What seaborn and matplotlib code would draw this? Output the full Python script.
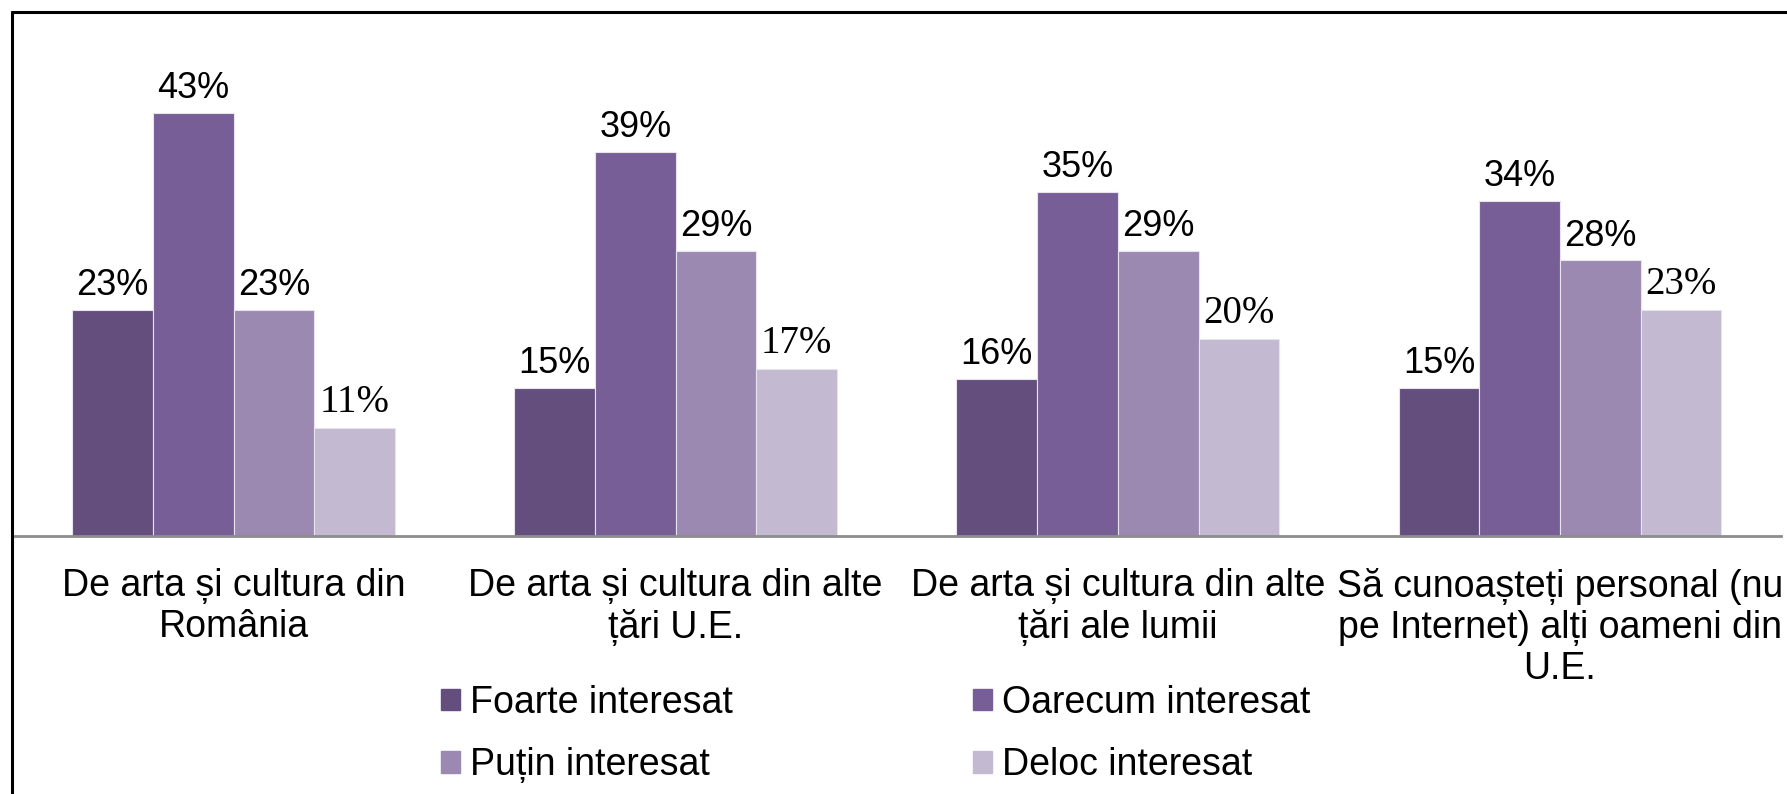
import matplotlib
matplotlib.use("Agg")
import matplotlib.pyplot as plt
from matplotlib.lines import Line2D
import seaborn as sns
import pandas as pd

# date grafic
categorii = [
    "De arta și cultura din\nRomânia",
    "De arta și cultura din alte\nțări U.E.",
    "De arta și cultura din alte\nțări ale lumii",
    "Să cunoașteți personal (nu\npe Internet) alți oameni din\nU.E.",
]
serii = ["Foarte interesat", "Oarecum interesat", "Puțin interesat", "Deloc interesat"]
foarte = [23, 15, 16, 15]
oarecum = [43, 39, 35, 34]
putin = [23, 29, 29, 28]
deloc = [11, 17, 20, 23]
culori = ["#634E7E", "#775E96", "#9B89B2", "#C3B9D0"]

valori = [foarte, oarecum, putin, deloc]
rows = []
for s, vals in zip(serii, valori):
    for c, v in zip(categorii, vals):
        rows.append({"categorie": c, "serie": s, "valoare": v})
df = pd.DataFrame(rows)

sns.set_style("white")
plt.rcParams["font.family"] = ["Liberation Sans", "DejaVu Sans"]
plt.rcParams["text.color"] = "black"
plt.rcParams["xtick.labelcolor"] = "black"

W, H = 1787, 794
fig = plt.figure(figsize=(W / 100, H / 100), dpi=100)
ax = fig.add_axes([12.5 / W, (H - 536) / H, (1781 - 12.5) / W, (536 - 44) / H])

sns.barplot(data=df, x="categorie", y="valoare", hue="serie", order=categorii,
            hue_order=serii, palette=culori, width=0.73, gap=0, saturation=1,
            edgecolor="#E8E4EE", linewidth=0.8, ax=ax, legend=False)

ax.set_ylim(0, 50)
ax.set_xlim(-0.5, 3.5)
ax.set_xlabel("")
ax.set_ylabel("")
ax.set_yticks([])
for side in ["top", "right", "left"]:
    ax.spines[side].set_visible(False)
ax.spines["bottom"].set_color("#8C8C8C")
ax.spines["bottom"].set_linewidth(2)

ax.set_xticks(range(len(categorii)))
ax.set_xticklabels(categorii, fontsize=27, linespacing=1.18)
ax.tick_params(axis="x", which="major", length=0, pad=23)
ax.set_xticks([0.5, 1.5, 2.5, 3.5], minor=True)
ax.tick_params(axis="x", which="minor", length=10, width=2, color="#8C8C8C")

# etichete
for i, cont in enumerate(ax.containers):
    if i == 3:
        ax.bar_label(cont, labels=[f"{v}%" for v in valori[i]], padding=5,
                     fontsize=28, family=["Liberation Serif"])
    else:
        ax.bar_label(cont, labels=[f"{v}%" for v in valori[i]], padding=5,
                     fontsize=26, family=["Liberation Sans"])

# legenda, ordine pe randuri
ordine = [0, 2, 1, 3]
handles = [plt.Rectangle((0, 0), 1, 1, color=culori[k]) for k in ordine]
fig.legend(handles, [serii[k] for k in ordine], ncol=2, loc="center left",
           bbox_to_anchor=(441 / W, (H - 734) / H), frameon=False,
           fontsize=27, handlelength=0.51, handleheight=0.5,
           handletextpad=0.27, columnspacing=6.4, labelspacing=0.71,
           borderpad=0, borderaxespad=0)

# chenar
fig.add_artist(Line2D([11.5 / W, 11.5 / W], [0, (H - 11.5) / H], color="black", lw=2.2,
                      transform=fig.transFigure))
fig.add_artist(Line2D([11.5 / W, 1], [(H - 11.5) / H, (H - 11.5) / H], color="black", lw=2.2,
                      transform=fig.transFigure))

fig.savefig("out.png", dpi=100)
